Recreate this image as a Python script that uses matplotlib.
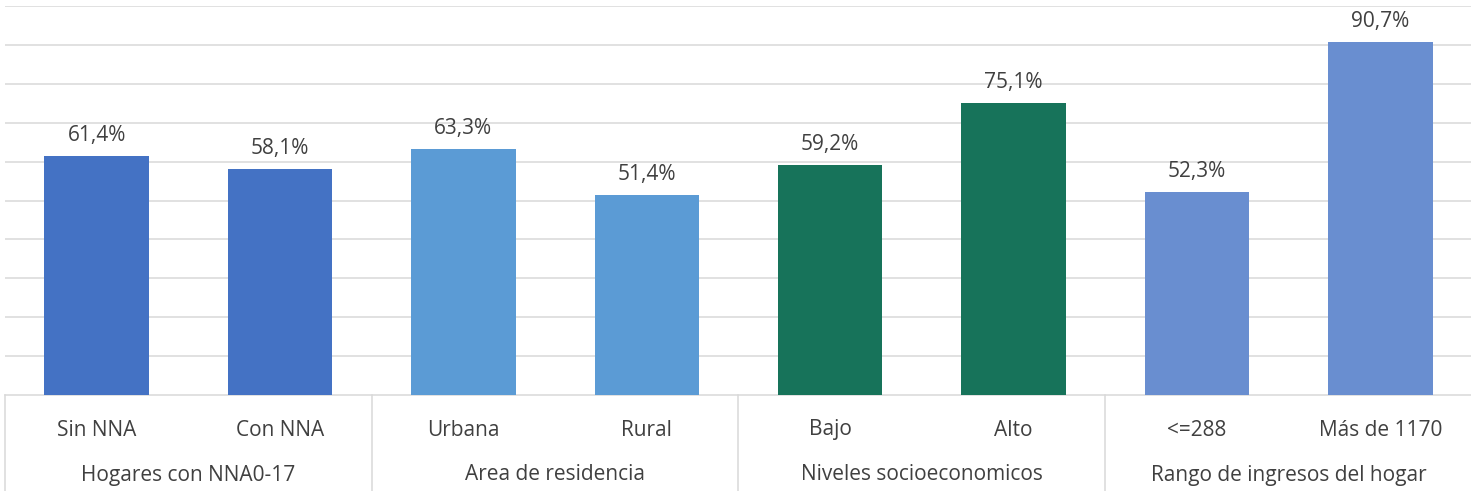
import matplotlib
matplotlib.use("Agg")
import matplotlib.pyplot as plt
import matplotlib.transforms as mtransforms

# datos
labels = ["Sin NNA", "Con NNA", "Urbana", "Rural", "Bajo", "Alto", "<=288", "Más de 1170"]
values = [61.4, 58.1, 63.3, 51.4, 59.2, 75.1, 52.3, 90.7]
groups = ["Hogares con NNA0-17", "Area de residencia", "Niveles socioeconomicos",
          "Rango de ingresos del hogar"]
group_colors = ["#4472C4", "#5B9BD5", "#17735A", "#698ED0"]

plt.rcParams['font.family'] = ['Open Sans', 'DejaVu Sans']
txt_color = "#404040"
grid_color = "#D9D9D9"
fs = 15

fig = plt.figure(figsize=(14.71, 4.91), dpi=100)
ax = fig.add_axes([5 / 1471, 96 / 491, 1467 / 1471, 389 / 491])

x = list(range(len(values)))
colors = [group_colors[i // 2] for i in x]
bars = ax.bar(x, values, width=0.57, color=colors, zorder=3)

for xi, v in zip(x, values):
    ax.annotate(f"{v:.1f}%".replace(".", ","), (xi, v), xytext=(0, 7),
                textcoords="offset points", ha="center", va="bottom",
                fontsize=fs, color=txt_color)

ax.set_xlim(-0.5, len(values) - 0.5)
ax.set_ylim(0, 100)
ax.set_yticks(range(10, 101, 10))
ax.yaxis.grid(True, color=grid_color, linewidth=1.1, zorder=0)
ax.set_yticklabels([])
ax.tick_params(axis="y", length=0)
ax.set_xticks([])
for s in ["top", "right", "left"]:
    ax.spines[s].set_visible(False)
ax.spines["bottom"].set_color(grid_color)
ax.spines["bottom"].set_linewidth(1.1)

# eje de categorias en dos niveles
trans = mtransforms.blended_transform_factory(ax.transData, fig.transFigure)
for xi, lab in zip(x, labels):
    ax.text(xi, 1 - 430 / 491, lab, transform=trans, ha="center", va="center",
            fontsize=fs, color=txt_color)
for gi, g in enumerate(groups):
    ax.text(gi * 2 + 0.5, 1 - 475 / 491, g, transform=trans, ha="center", va="center",
            fontsize=fs, color=txt_color)
for gi in range(len(groups) + 1):
    ax.plot([gi * 2 - 0.5, gi * 2 - 0.5], [0, 1 - 395 / 491], transform=trans,
            color=grid_color, linewidth=1.1, clip_on=False)

fig.savefig("out.png", dpi=100)
